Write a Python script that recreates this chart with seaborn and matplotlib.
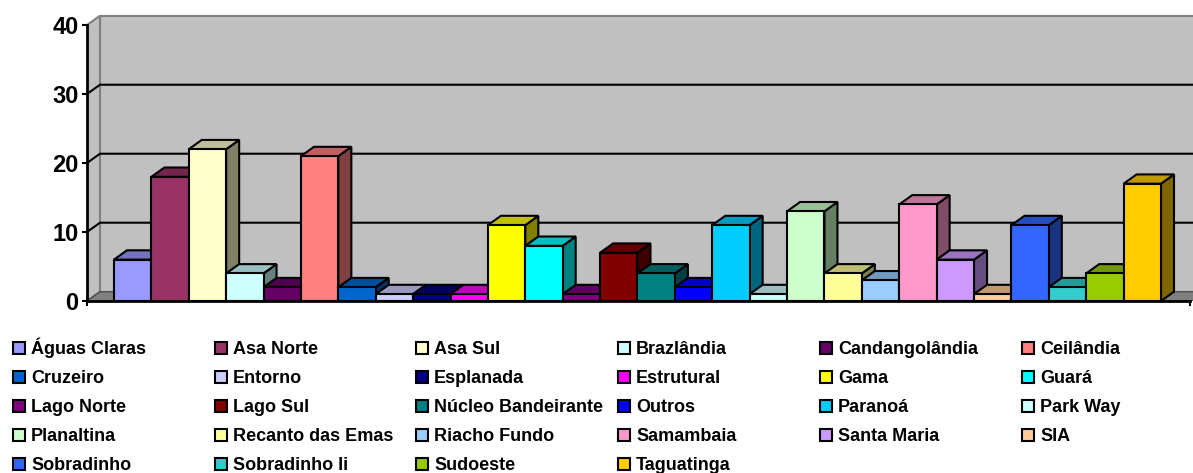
import matplotlib
matplotlib.use("Agg")
import matplotlib.pyplot as plt
import numpy as np
import pandas as pd
import seaborn as sns
from matplotlib.patches import Polygon, Rectangle
from matplotlib.lines import Line2D
from matplotlib.colors import to_rgb

# ---- data -------------------------------------------------------------
regions = [
    "Águas Claras", "Asa Norte", "Asa Sul", "Brazlândia", "Candangolândia",
    "Ceilândia", "Cruzeiro", "Entorno", "Esplanada", "Estrutural", "Gama",
    "Guará", "Lago Norte", "Lago Sul", "Núcleo Bandeirante", "Outros",
    "Paranoá", "Park Way", "Planaltina", "Recanto das Emas", "Riacho Fundo",
    "Samambaia", "Santa Maria", "SIA", "Sobradinho", "Sobradinho Ii",
    "Sudoeste", "Taguatinga",
]
counts = [6, 18, 22, 4, 2, 21, 2, 1, 1, 1, 11, 8, 1, 7, 4, 2, 11, 1, 13, 4,
          3, 14, 6, 1, 11, 2, 4, 17]
colors = [
    "#9999FF", "#993366", "#FFFFCC", "#CCFFFF", "#660066", "#FF8080",
    "#0066CC", "#CCCCFF", "#000080", "#FF00FF", "#FFFF00", "#00FFFF",
    "#800080", "#800000", "#008080", "#0000FF", "#00CCFF", "#CCFFFF",
    "#CCFFCC", "#FFFF99", "#99CCFF", "#FF99CC", "#CC99FF", "#FFCC99",
    "#3366FF", "#33CCCC", "#99CC00", "#FFCC00",
]
y_ticks = [0, 10, 20, 30, 40]

# ---- style ------------------------------------------------------------
sns.set_theme(style="white")
plt.rcParams["font.family"] = ["Liberation Sans", "DejaVu Sans"]
plt.rcParams["font.weight"] = "bold"
plt.rcParams["text.color"] = "black"
plt.rcParams["ytick.color"] = "black"
plt.rcParams["xtick.color"] = "black"
plt.rcParams["axes.labelcolor"] = "black"

fig = plt.figure(figsize=(11.93, 4.73), dpi=100)
ax = fig.add_axes([0.0729, 0.3636, 0.9271, 0.6068])

df = pd.DataFrame({"Região": regions, "Total": counts})
sns.barplot(
    data=df, x="Região", y="Total", hue="Região", order=regions,
    hue_order=regions, palette=dict(zip(regions, colors)), dodge=False,
    width=1.0, saturation=1, edgecolor="black", linewidth=1.5,
    legend=False, ax=ax,
)

# depth of the pseudo-3D box (data units)
DX, DY = 0.348, 1.35
X0, X1 = -1.222, 28.276
XR = 28.356
YMAX = y_ticks[-1]

grey, dgrey = "#C0C0C0", "#808080"
# walls and floor
ax.add_patch(Polygon([(X0 + DX, DY), (X0 + DX, YMAX + DY), (XR + 2, YMAX + DY),
                      (XR + 2, DY)], closed=True, fc=grey, ec=dgrey, lw=1.5,
                     zorder=0.5))
ax.add_patch(Polygon([(X0, 0), (X0 + DX, DY), (X0 + DX, YMAX + DY), (X0, YMAX)],
                     closed=True, fc=grey, ec=dgrey, lw=1.5, zorder=0.6))
ax.add_patch(Polygon([(X0, 0), (X0 + DX, DY), (XR + 2, DY), (X1, 0)],
                     closed=True, fc=dgrey, ec="#505050", lw=1.0, zorder=0.7))
for v in y_ticks[1:-1]:
    ax.plot([X0, X0 + DX, XR + 2], [v, v + DY, v + DY], color="black",
            lw=1.5, zorder=0.8, solid_joinstyle="miter")

# side and top faces of each bar, drawn left to right
bars = sorted([p for p in ax.patches if isinstance(p, Rectangle)],
              key=lambda p: p.get_x())
for i, bar in enumerate(bars):
    x, w, h = bar.get_x(), bar.get_width(), bar.get_height()
    c = np.array(to_rgb(bar.get_facecolor()))
    base = 10 + 3 * i
    side = Polygon([(x + w, 0), (x + w, h), (x + w + DX, h + DY), (x + w + DX, DY)],
                   closed=True, fc=c * 0.5, ec="black", lw=1.5, zorder=base,
                   joinstyle="miter")
    top = Polygon([(x, h), (x + DX, h + DY), (x + w + DX, h + DY), (x + w, h)],
                  closed=True, fc=c * 0.75, ec="black", lw=1.5, zorder=base + 1,
                  joinstyle="miter")
    ax.add_patch(side)
    ax.add_patch(top)
    bar.set_zorder(base + 2)

# axes frame
ax.set_xlim(X0, XR)
ax.set_ylim(0, 41.6)
for s in ("top", "right"):
    ax.spines[s].set_visible(False)
for s in ("left", "bottom"):
    ax.spines[s].set_color("black")
    ax.spines[s].set_linewidth(2)
    ax.spines[s].set_zorder(200)
ax.spines["left"].set_bounds(0, YMAX)
ax.spines["bottom"].set_bounds(X0, X1)
ax.set_yticks(y_ticks)
ax.set_xticks([X0, X1])
ax.set_xticklabels(["", ""])
ax.tick_params(axis="y", left=True, length=3.6, width=1.5, colors="black",
               labelsize=17, pad=2.5)
ax.tick_params(axis="x", bottom=True, length=3.6, width=1.5, colors="black")
for t in ax.get_yticklabels():
    t.set_fontweight("bold")
    t.set_color("black")
ax.set_xlabel("")
ax.set_ylabel("")

# legend: six columns, filled row by row; one entry per cell keeps the grid even
ncol = 6
col_x = [13, 215, 416, 618, 820, 1022]
row_y = [348, 377, 406, 435, 464]
for k, (name, col) in enumerate(zip(regions, colors)):
    r, j = divmod(k, ncol)
    handle = Line2D([], [], marker="s", linestyle="", markersize=8.3,
                    markerfacecolor=col, markeredgecolor="black",
                    markeredgewidth=1.5)
    fig.legend([handle], [name], loc="lower left",
               bbox_to_anchor=(col_x[j] / 1193 - 0.0008,
                               1 - (row_y[r] + 10) / 473),
               frameon=False, borderpad=0, borderaxespad=0, handlelength=0.75,
               handletextpad=0.3, prop={"size": 13, "weight": "bold"},
               labelcolor="black")

fig.savefig("out.png", dpi=100)
